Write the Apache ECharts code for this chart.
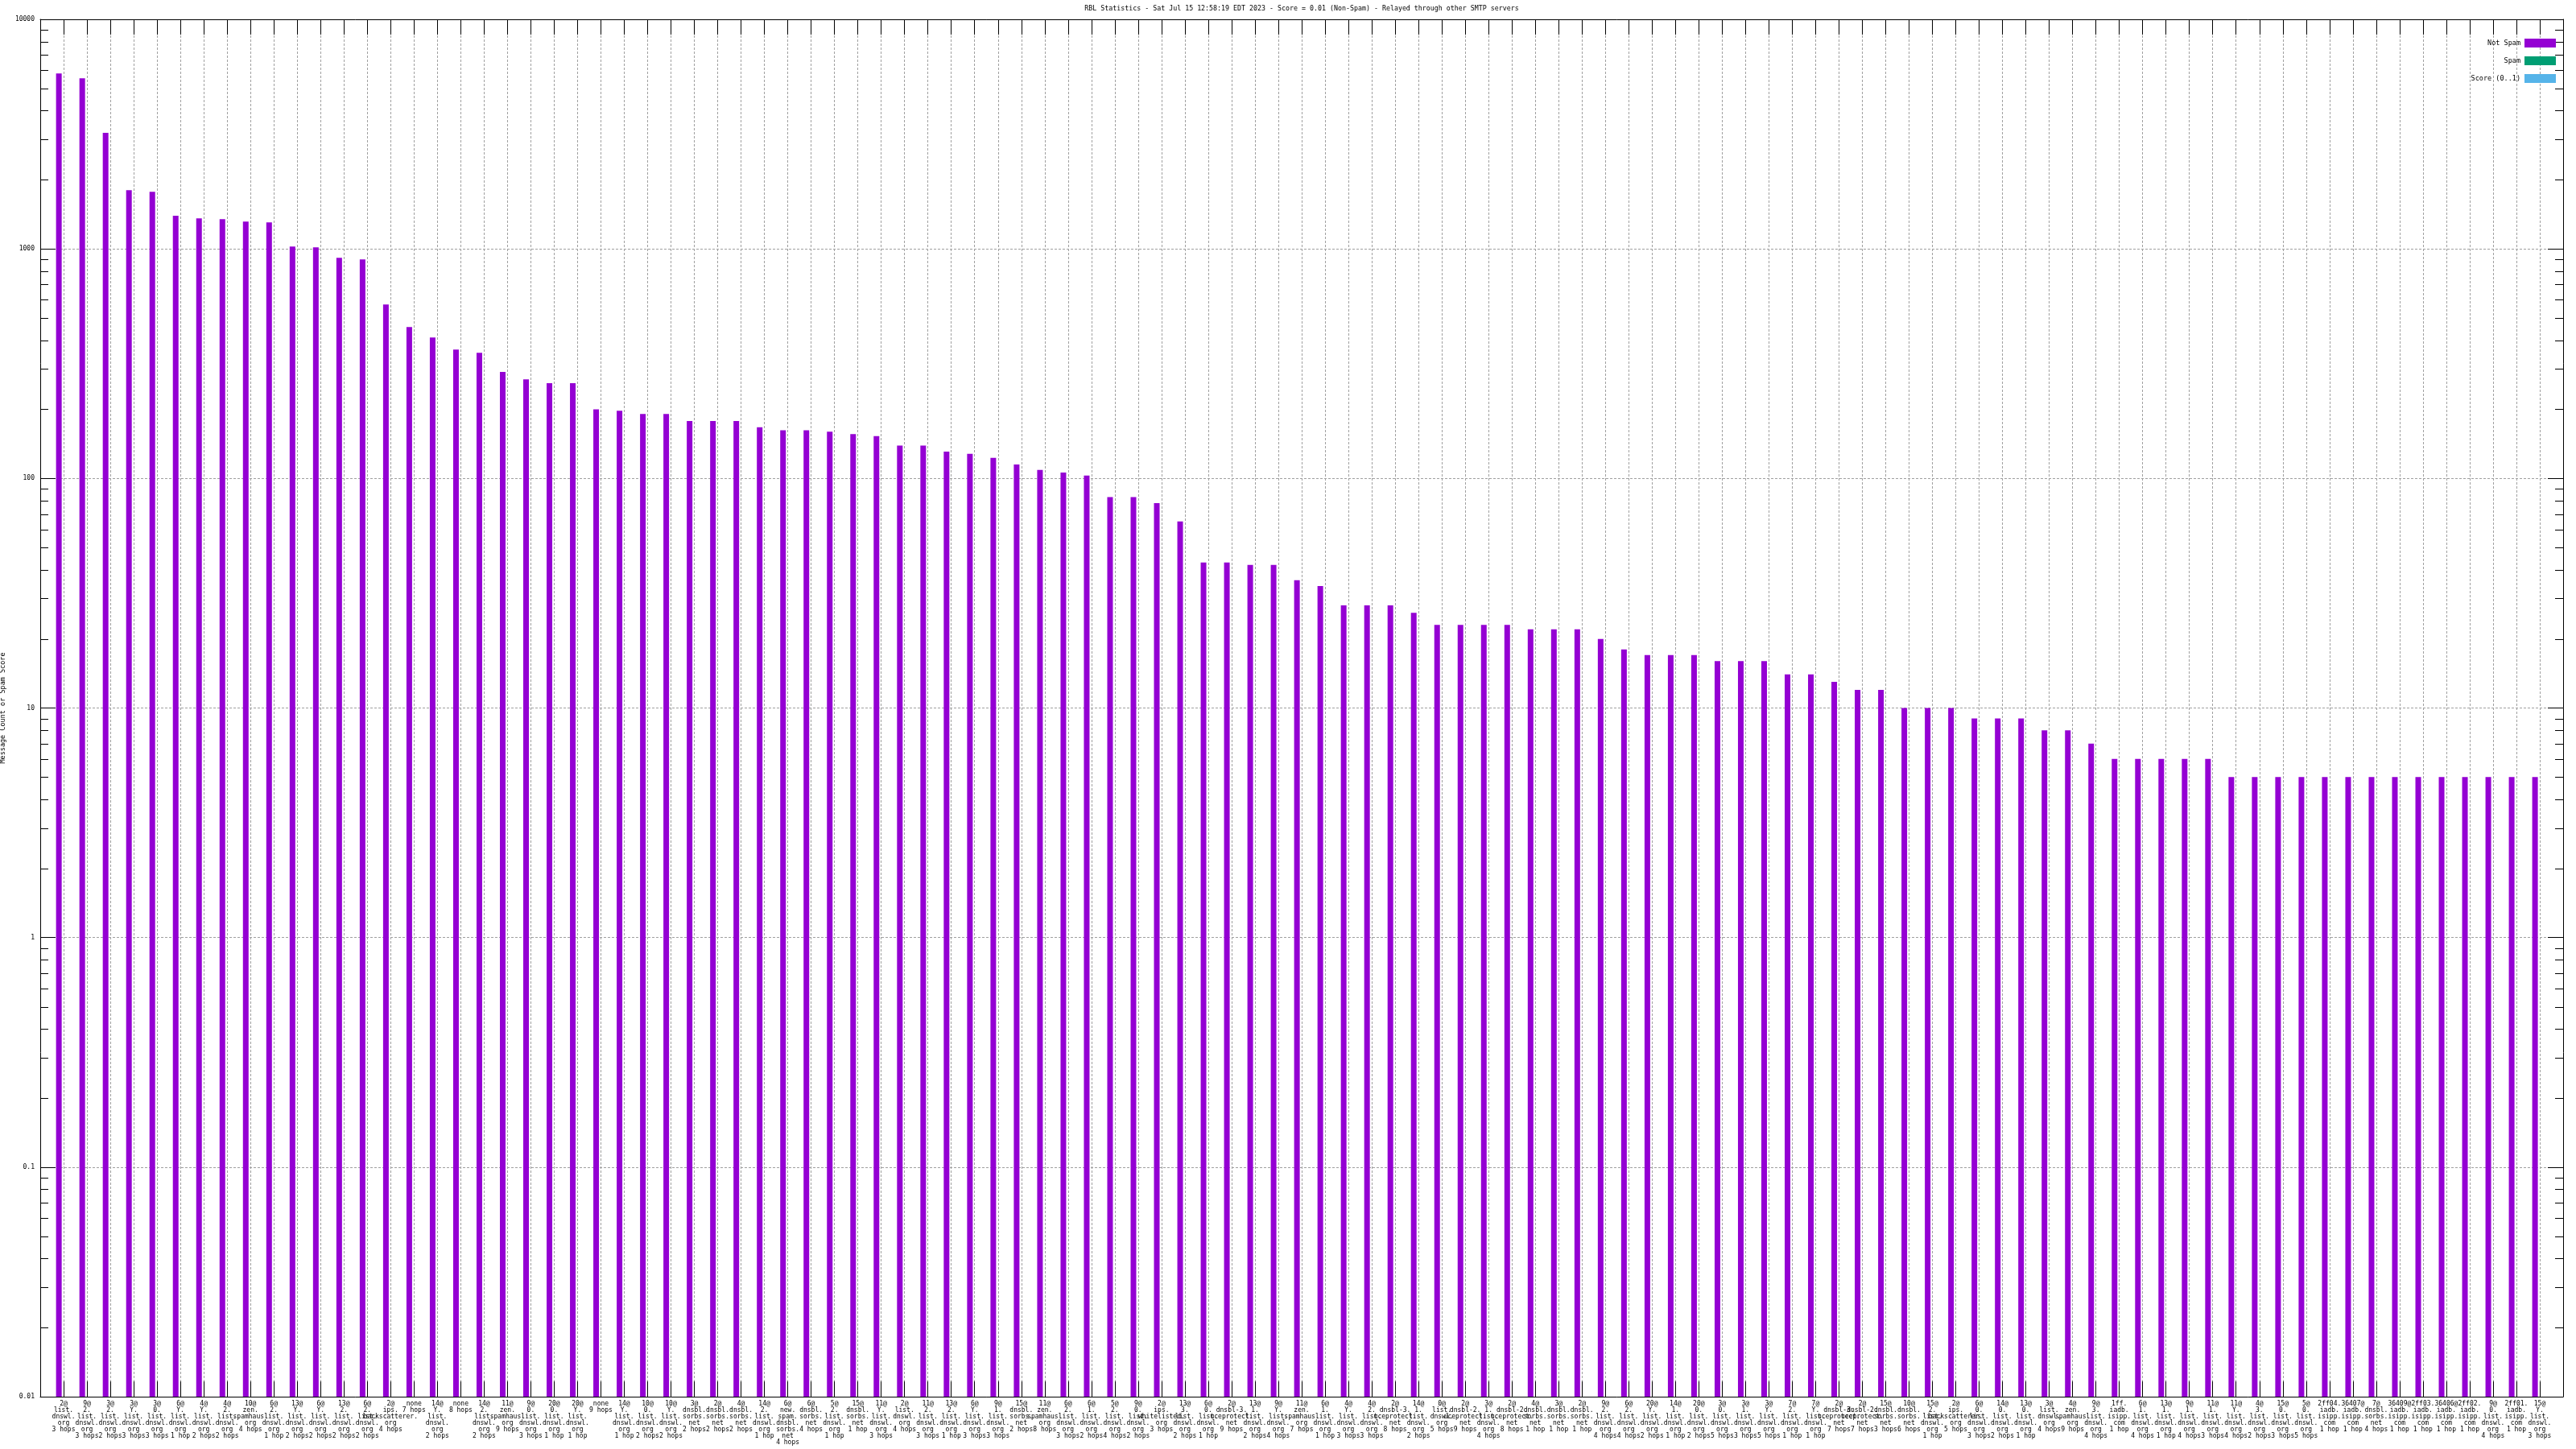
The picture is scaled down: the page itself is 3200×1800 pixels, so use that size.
<!DOCTYPE html>
<html>
<head>
<meta charset="utf-8">
<script src="https://cdn.jsdelivr.net/npm/echarts@6/dist/echarts.min.js"></script>
<style>html,body{margin:0;padding:0;background:#fff;}#chart{width:3200px;height:1800px;}</style>
</head>
<body>
<div id="chart"></div>
<script>
const titleText = 'RBL Statistics - Sat Jul 15 12:58:19 EDT 2023 - Score = 0.01 (Non-Spam) - Relayed through other SMTP servers';
const yAxisName = 'Message Count or Spam Score';
const seriesNames = ['Not Spam', 'Spam', 'Score (0..1)'];
const yTickLabels = ['0.01', '0.1', '1', '10', '100', '1000', '10000'];

const categories = [
'2@\nlist.\ndnswl.\norg\n3 hops',
'9@\n2.\nlist.\ndnswl.\norg\n3 hops',
'3@\n2.\nlist.\ndnswl.\norg\n2 hops',
'3@\nY.\nlist.\ndnswl.\norg\n3 hops',
'3@\n0.\nlist.\ndnswl.\norg\n3 hops',
'6@\nY.\nlist.\ndnswl.\norg\n1 hop',
'4@\nY.\nlist.\ndnswl.\norg\n2 hops',
'4@\n2.\nlist.\ndnswl.\norg\n2 hops',
'10@\nzen.\nspamhaus.\norg\n4 hops',
'6@\n2.\nlist.\ndnswl.\norg\n1 hop',
'13@\nY.\nlist.\ndnswl.\norg\n2 hops',
'6@\nY.\nlist.\ndnswl.\norg\n2 hops',
'13@\n2.\nlist.\ndnswl.\norg\n2 hops',
'6@\n2.\nlist.\ndnswl.\norg\n2 hops',
'2@\nips.\nbackscatterer.\norg\n4 hops',
'none\n7 hops',
'14@\nY.\nlist.\ndnswl.\norg\n2 hops',
'none\n8 hops',
'14@\n2.\nlist.\ndnswl.\norg\n2 hops',
'11@\nzen.\nspamhaus.\norg\n9 hops',
'9@\n0.\nlist.\ndnswl.\norg\n3 hops',
'20@\n0.\nlist.\ndnswl.\norg\n1 hop',
'20@\nY.\nlist.\ndnswl.\norg\n1 hop',
'none\n9 hops',
'14@\nY.\nlist.\ndnswl.\norg\n1 hop',
'10@\n0.\nlist.\ndnswl.\norg\n2 hops',
'10@\nY.\nlist.\ndnswl.\norg\n2 hops',
'3@\ndnsbl.\nsorbs.\nnet\n2 hops',
'2@\ndnsbl.\nsorbs.\nnet\n2 hops',
'4@\ndnsbl.\nsorbs.\nnet\n2 hops',
'14@\n2.\nlist.\ndnswl.\norg\n1 hop',
'6@\nnew.\nspam.\ndnsbl.\nsorbs.\nnet\n4 hops',
'6@\ndnsbl.\nsorbs.\nnet\n4 hops',
'5@\n2.\nlist.\ndnswl.\norg\n1 hop',
'15@\ndnsbl.\nsorbs.\nnet\n1 hop',
'11@\nY.\nlist.\ndnswl.\norg\n3 hops',
'2@\nlist.\ndnswl.\norg\n4 hops',
'11@\n2.\nlist.\ndnswl.\norg\n3 hops',
'13@\n2.\nlist.\ndnswl.\norg\n1 hop',
'6@\nY.\nlist.\ndnswl.\norg\n3 hops',
'9@\n1.\nlist.\ndnswl.\norg\n3 hops',
'15@\ndnsbl.\nsorbs.\nnet\n2 hops',
'11@\nzen.\nspamhaus.\norg\n8 hops',
'6@\n2.\nlist.\ndnswl.\norg\n3 hops',
'6@\n1.\nlist.\ndnswl.\norg\n2 hops',
'5@\n2.\nlist.\ndnswl.\norg\n4 hops',
'9@\n0.\nlist.\ndnswl.\norg\n2 hops',
'2@\nips.\nwhitelisted.\norg\n3 hops',
'13@\n3.\nlist.\ndnswl.\norg\n2 hops',
'6@\n0.\nlist.\ndnswl.\norg\n1 hop',
'2@\ndnsbl-3.\nuceprotect.\nnet\n9 hops',
'13@\n1.\nlist.\ndnswl.\norg\n2 hops',
'9@\nY.\nlist.\ndnswl.\norg\n4 hops',
'11@\nzen.\nspamhaus.\norg\n7 hops',
'6@\n1.\nlist.\ndnswl.\norg\n1 hop',
'4@\nY.\nlist.\ndnswl.\norg\n3 hops',
'4@\n2.\nlist.\ndnswl.\norg\n3 hops',
'2@\ndnsbl-3.\nuceprotect.\nnet\n8 hops',
'14@\n1.\nlist.\ndnswl.\norg\n2 hops',
'0@\nlist.\ndnswl.\norg\n5 hops',
'2@\ndnsbl-2.\nuceprotect.\nnet\n9 hops',
'3@\n1.\nlist.\ndnswl.\norg\n4 hops',
'2@\ndnsbl-2.\nuceprotect.\nnet\n8 hops',
'4@\ndnsbl.\nsorbs.\nnet\n1 hop',
'3@\ndnsbl.\nsorbs.\nnet\n1 hop',
'2@\ndnsbl.\nsorbs.\nnet\n1 hop',
'9@\n2.\nlist.\ndnswl.\norg\n4 hops',
'6@\n2.\nlist.\ndnswl.\norg\n4 hops',
'20@\nY.\nlist.\ndnswl.\norg\n2 hops',
'14@\n1.\nlist.\ndnswl.\norg\n1 hop',
'20@\n0.\nlist.\ndnswl.\norg\n2 hops',
'3@\n0.\nlist.\ndnswl.\norg\n5 hops',
'3@\n1.\nlist.\ndnswl.\norg\n3 hops',
'3@\nY.\nlist.\ndnswl.\norg\n5 hops',
'7@\n2.\nlist.\ndnswl.\norg\n1 hop',
'7@\nY.\nlist.\ndnswl.\norg\n1 hop',
'2@\ndnsbl-3.\nuceprotect.\nnet\n7 hops',
'2@\ndnsbl-2.\nuceprotect.\nnet\n7 hops',
'15@\ndnsbl.\nsorbs.\nnet\n3 hops',
'10@\ndnsbl.\nsorbs.\nnet\n6 hops',
'15@\n2.\nlist.\ndnswl.\norg\n1 hop',
'2@\nips.\nbackscatterer.\norg\n5 hops',
'6@\n0.\nlist.\ndnswl.\norg\n3 hops',
'14@\n0.\nlist.\ndnswl.\norg\n2 hops',
'13@\n0.\nlist.\ndnswl.\norg\n1 hop',
'3@\nlist.\ndnswl.\norg\n4 hops',
'4@\nzen.\nspamhaus.\norg\n9 hops',
'9@\n3.\nlist.\ndnswl.\norg\n4 hops',
'1ff.\niadb.\nisipp.\ncom\n1 hop',
'6@\n1.\nlist.\ndnswl.\norg\n4 hops',
'13@\n1.\nlist.\ndnswl.\norg\n1 hop',
'9@\n1.\nlist.\ndnswl.\norg\n4 hops',
'11@\n1.\nlist.\ndnswl.\norg\n3 hops',
'11@\nY.\nlist.\ndnswl.\norg\n4 hops',
'4@\n3.\nlist.\ndnswl.\norg\n2 hops',
'15@\n0.\nlist.\ndnswl.\norg\n3 hops',
'5@\n0.\nlist.\ndnswl.\norg\n5 hops',
'2ff04.\niadb.\nisipp.\ncom\n1 hop',
'36407@\niadb.\nisipp.\ncom\n1 hop',
'7@\ndnsbl.\nsorbs.\nnet\n4 hops',
'36409@\niadb.\nisipp.\ncom\n1 hop',
'2ff03.\niadb.\nisipp.\ncom\n1 hop',
'36406@\niadb.\nisipp.\ncom\n1 hop',
'2ff02.\niadb.\nisipp.\ncom\n1 hop',
'9@\n0.\nlist.\ndnswl.\norg\n4 hops',
'2ff01.\niadb.\nisipp.\ncom\n1 hop',
'15@\nY.\nlist.\ndnswl.\norg\n3 hops'
];

const notSpam = [
5810, 5540, 3200, 1803, 1774, 1393, 1359, 1348, 1316, 1305,
1024, 1016, 915, 900, 573, 457, 411, 364, 353, 291,
270, 260, 260, 200, 197, 191, 191, 178, 178, 178,
167, 162, 162, 160, 156, 153, 139, 139, 131, 128,
123, 115, 109, 106, 103, 83, 83, 78, 65, 43,
43, 42, 42, 36, 34, 28, 28, 28, 26, 23,
23, 23, 23, 22, 22, 22, 20, 18, 17, 17,
17, 16, 16, 16, 14, 14, 13, 12, 12, 10,
10, 10, 9, 9, 9, 8, 8, 7, 6, 6,
6, 6, 6, 5, 5, 5, 5, 5, 5, 5,
5, 5, 5, 5, 5, 5, 5
];
const spam = [];
const score = [];

// axis-frame helpers (padding slots at both ends, as in the gnuplot xrange)
const xCats = [''].concat(categories, ['']);
const pad = v => [null].concat(v, [null]);

// minor tick positions of the log axis (2..9 in each decade)
const minorTickVals = [];
for (let e = -2; e < 4; e++) {
  for (let m = 2; m <= 9; m++) minorTickVals.push(+(m * Math.pow(10, e)).toPrecision(3));
}

const FONT = 'DejaVu Sans Mono';
const gridLine = { show: true, interval: 0, lineStyle: { color: '#a0a0a0', type: [3, 2], width: 1 } };
const axisLine = { show: true, lineStyle: { color: '#000', width: 1 } };

const chart = echarts.init(document.getElementById('chart'), null, { renderer: 'canvas' });
const option = {
  backgroundColor: '#ffffff',
  animation: false,
  textStyle: { fontFamily: FONT, color: '#000' },
  title: {
    text: titleText,
    left: 1617,
    top: 7,
    padding: 0,
    textAlign: 'center',
    textStyle: { fontFamily: FONT, fontSize: 8.3, fontWeight: 'normal', color: '#000' }
  },
  legend: {
    data: seriesNames,
    orient: 'vertical',
    right: 25,
    top: 48,
    padding: 0,
    align: 'right',
    icon: 'rect',
    itemWidth: 39,
    itemHeight: 11,
    itemGap: 11,
    textStyle: { fontFamily: FONT, fontSize: 8.5, color: '#000' }
  },
  grid: { left: 50, right: 16, top: 24, bottom: 65, outerBoundsMode: 'none' },
  xAxis: [
    {
      type: 'category', data: xCats, boundaryGap: false, position: 'bottom',
      axisLine: axisLine,
      axisTick: { show: true, inside: true, length: 19, interval: 0, lineStyle: { color: '#000' } },
      axisLabel: { show: true, interval: 0, margin: 5, hideOverlap: false, fontFamily: FONT, fontSize: 8, lineHeight: 8, color: '#000' },
      splitLine: gridLine
    },
    {
      type: 'category', data: xCats, boundaryGap: false, position: 'top',
      axisLine: axisLine,
      axisTick: { show: true, inside: true, length: 19, interval: 0, lineStyle: { color: '#000' } },
      axisLabel: { show: false },
      splitLine: { show: false }
    }
  ],
  yAxis: [
    {
      type: 'log', logBase: 10, min: 0.01, max: 10000, interval: 1, startValue: 0.01,
      position: 'left',
      name: yAxisName, nameLocation: 'middle', nameGap: 37, nameRotate: 90,
      nameTextStyle: { fontFamily: FONT, fontSize: 8.5, color: '#000' },
      axisLine: axisLine,
      axisTick: { show: true, inside: true, length: 19, lineStyle: { color: '#000' } },
      axisLabel: {
        margin: 7, fontFamily: FONT, fontSize: 8, color: '#000',
        formatter: v => { const i = Math.round(Math.log10(v)) + 2; return yTickLabels[i] !== undefined ? yTickLabels[i] : ''; }
      },
      splitLine: { show: true, lineStyle: { color: '#a0a0a0', type: [3, 2], width: 1 } }
    },
    {
      type: 'log', logBase: 10, min: 0.01, max: 10000, interval: 1, startValue: 0.01,
      position: 'right',
      axisLine: axisLine,
      axisTick: { show: true, inside: true, length: 19, lineStyle: { color: '#000' } },
      axisLabel: { show: false },
      splitLine: { show: false }
    }
  ],
  series: [
    {
      name: seriesNames[0], type: 'bar', data: pad(notSpam),
      xAxisIndex: 0, yAxisIndex: 0,
      barWidth: 7, barGap: '-16%',
      itemStyle: { color: '#9400d3' }
    },
    {
      name: seriesNames[1], type: 'bar', data: pad(spam),
      xAxisIndex: 0, yAxisIndex: 0,
      barWidth: 7, barGap: '-16%',
      itemStyle: { color: '#009e73' }
    },
    {
      name: seriesNames[2], type: 'bar', data: pad(score),
      xAxisIndex: 0, yAxisIndex: 0,
      barWidth: 7, barGap: '-16%',
      itemStyle: { color: '#56b4e9' }
    },
    {
      name: 'minorTicks', type: 'custom', silent: true,
      xAxisIndex: 0, yAxisIndex: 0,
      data: minorTickVals.map(v => [0, v]),
      encode: { x: 0, y: 1 },
      renderItem: function (params, api) {
        const cs = params.coordSys;
        const y = Math.round(api.coord([0, api.value(1)])[1]) + 0.5;
        const st = { stroke: '#000', lineWidth: 1 };
        return {
          type: 'group',
          children: [
            { type: 'line', shape: { x1: cs.x, y1: y, x2: cs.x + 10, y2: y }, style: st },
            { type: 'line', shape: { x1: cs.x + cs.width - 10, y1: y, x2: cs.x + cs.width, y2: y }, style: st }
          ]
        };
      }
    }
  ]
};
chart.setOption(option);
</script>
</body>
</html>
